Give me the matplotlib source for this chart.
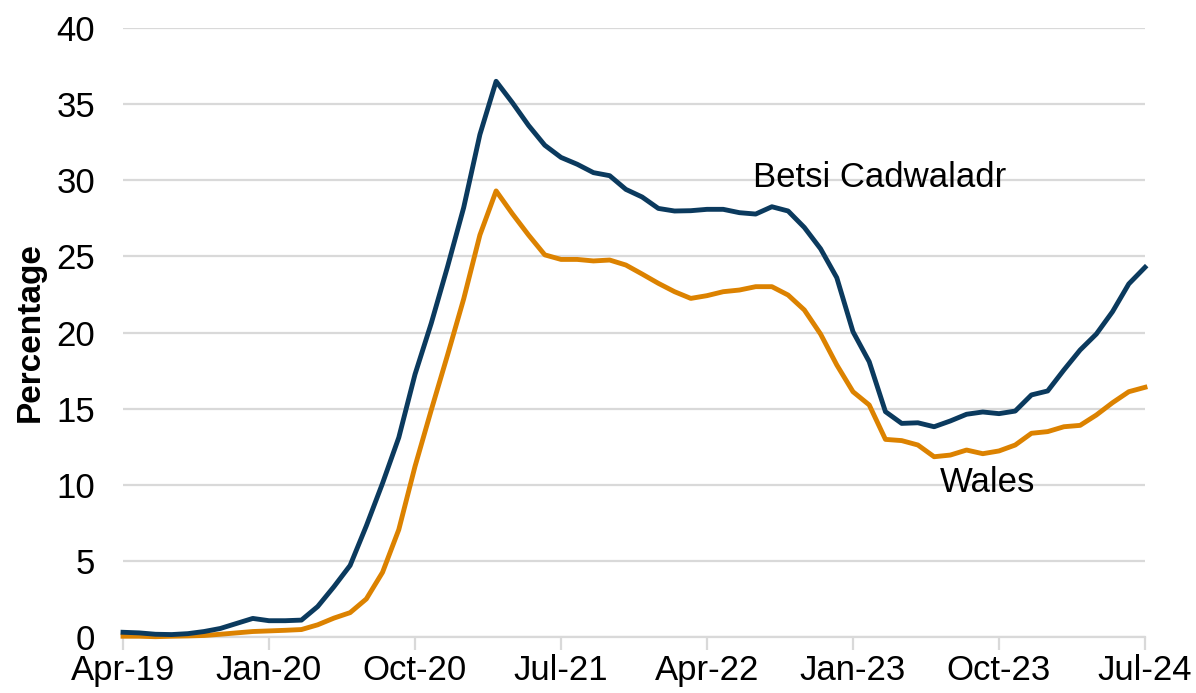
import matplotlib
matplotlib.use("Agg")
import matplotlib.pyplot as plt

plt.rcParams['font.family'] = ['Liberation Sans', 'DejaVu Sans']

# monthly, Apr-19 .. Jul-24
tick_labels = ['Apr-19', 'Jan-20', 'Oct-20', 'Jul-21', 'Apr-22', 'Jan-23', 'Oct-23', 'Jul-24']

betsi = [0.31, 0.27, 0.18, 0.16, 0.22, 0.36, 0.56, 0.89, 1.22, 1.07,
         1.07, 1.11, 2.0, 3.3, 4.7, 7.3, 10.1, 13.1, 17.25, 20.6,
         24.3, 28.2, 33.0, 36.5, 35.1, 33.6, 32.3, 31.5, 31.05, 30.5,
         30.3, 29.4, 28.9, 28.15, 27.98, 28.0, 28.09, 28.09, 27.87, 27.78,
         28.26, 27.98, 26.9, 25.5, 23.6, 20.05, 18.08, 14.8, 14.03, 14.07,
         13.81, 14.19, 14.63, 14.78, 14.67, 14.84, 15.9, 16.16, 17.54, 18.85,
         19.9, 21.37, 23.19, 24.28]

wales = [0.05, 0.05, 0.02, 0.05, 0.07, 0.1, 0.18, 0.27, 0.36, 0.4,
         0.44, 0.49, 0.8, 1.24, 1.6, 2.5, 4.25, 7.05, 11.2, 14.9,
         18.5, 22.2, 26.4, 29.3, 27.8, 26.4, 25.1, 24.8, 24.8, 24.7,
         24.76, 24.43, 23.84, 23.23, 22.68, 22.24, 22.42, 22.68, 22.79, 23.01,
         23.01, 22.46, 21.48, 19.9, 17.87, 16.11, 15.24, 12.98, 12.9, 12.61,
         11.84, 11.95, 12.28, 12.04, 12.22, 12.61, 13.38, 13.49, 13.81, 13.9,
         14.58, 15.39, 16.11, 16.4]

x = list(range(len(betsi)))

fig = plt.figure(figsize=(11.96, 6.93), dpi=100)
ax = fig.add_axes([123 / 1196, 56 / 693, 1022 / 1196, 609 / 693])

ax.plot(x, wales, color='#dc8200', lw=3.5, solid_joinstyle='round', zorder=3, clip_on=False)
ax.plot(x, betsi, color='#0b3a5e', lw=3.5, solid_joinstyle='round', zorder=4, clip_on=False)

ax.set_xlim(0, 63)
ax.set_ylim(0, 40)
ax.set_yticks(range(0, 41, 5))
ax.set_xticks(range(0, 64, 9))
ax.set_xticklabels(tick_labels)

ax.grid(axis='y', color='#d9d9d9', lw=1.6)
ax.set_axisbelow(True)
for s in ['top', 'right', 'left']:
    ax.spines[s].set_visible(False)
ax.spines['bottom'].set_color('#d9d9d9')
ax.spines['bottom'].set_linewidth(1.6)

ax.tick_params(axis='y', length=0, pad=20, labelsize=25)
ax.tick_params(axis='x', length=9, width=1.6, color='#d9d9d9', pad=3, labelsize=25)

ax.set_ylabel('Percentage', fontsize=24, fontweight='bold')
ax.yaxis.set_label_coords(-0.076, 0.5)

ax.text(38.84, 30.15, 'Betsi Cadwaladr', fontsize=25, ha='left', va='center')
ax.text(50.37, 10.18, 'Wales', fontsize=25, ha='left', va='center')

fig.savefig('out.png', dpi=100)
